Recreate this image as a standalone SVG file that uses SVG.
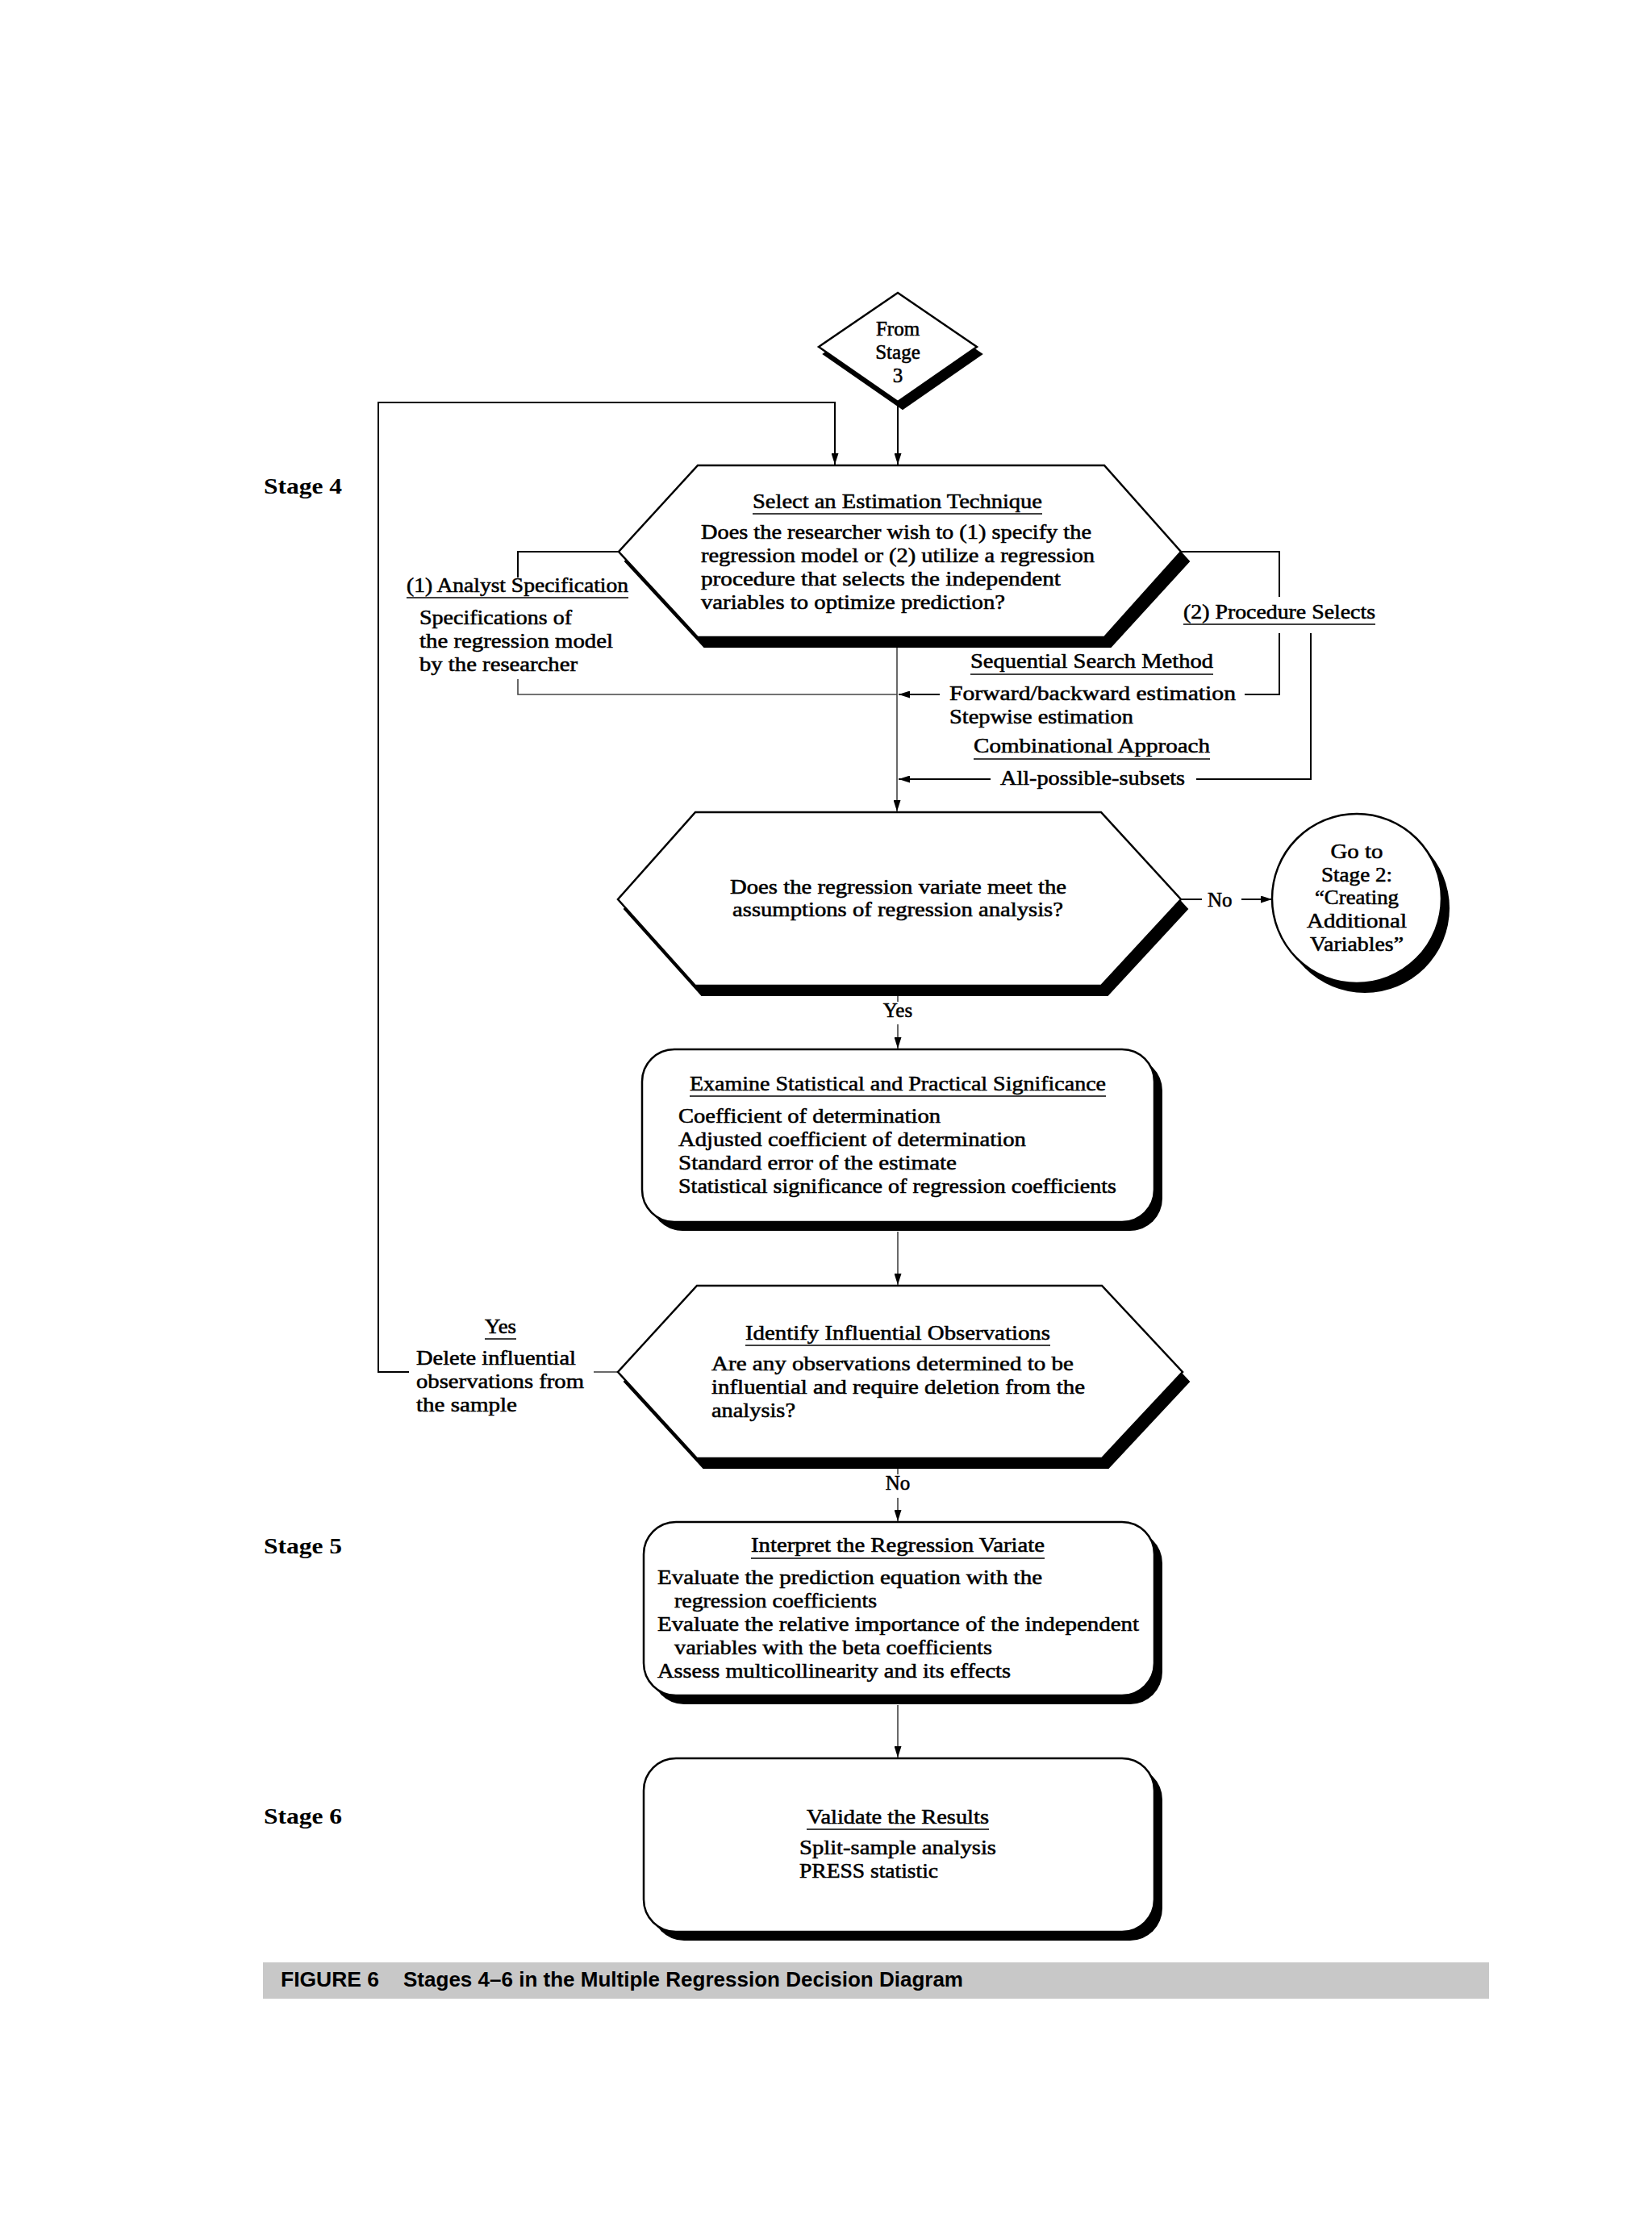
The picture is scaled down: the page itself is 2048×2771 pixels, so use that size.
<svg xmlns="http://www.w3.org/2000/svg" width="2048" height="2771" viewBox="0 0 2048 2771">
<defs>
<style>
.t{font-family:"Liberation Serif",serif;font-size:25px;fill:#000;stroke:#000;stroke-width:0.55}
.c{text-anchor:middle}
.st{font-family:"Liberation Serif",serif;font-size:28px;font-weight:bold;fill:#000}
.cap{font-family:"Liberation Sans",sans-serif;font-size:25px;font-weight:bold;fill:#000}
.shape{fill:#fff;stroke:#000;stroke-width:2.5}
.shadow{fill:#000;stroke:#000;stroke-width:2}
.ln{fill:none;stroke:#000;stroke-width:2}
.gl{fill:none;stroke:#444;stroke-width:1.6}
.ul{stroke:#000;stroke-width:1.6}
</style>
<marker id="ah" markerUnits="userSpaceOnUse" markerWidth="14" markerHeight="9" refX="14" refY="4.5" orient="auto">
<path d="M0,0 L14,4.5 L0,9 z" fill="#000"/>
</marker>
</defs>
<rect width="2048" height="2771" fill="#fff"/>

<!-- stage labels -->
<text class="st" x="327" y="612" textLength="97" lengthAdjust="spacingAndGlyphs">Stage 4</text>
<text class="st" x="327" y="1926" textLength="97" lengthAdjust="spacingAndGlyphs">Stage 5</text>
<text class="st" x="327" y="2261" textLength="97" lengthAdjust="spacingAndGlyphs">Stage 6</text>

<g id="connectors">
<line class="ln" x1="1113" y1="498" x2="1113" y2="576" marker-end="url(#ah)"/>
<polyline class="ln" points="507,1701 469,1701 469,499 1035,499 1035,576" marker-end="url(#ah)"/>
<line class="gl" x1="768" y1="1701" x2="736" y2="1701"/>
<polyline class="ln" points="766,684 642,684 642,716"/>
<polyline class="gl" points="642,842 642,861 1112,861"/>
<polyline class="ln" points="1462,684 1586,684 1586,740"/>
<polyline class="ln" points="1586,785 1586,861 1543,861"/>
<line class="ln" x1="1165" y1="861" x2="1114" y2="861" marker-end="url(#ah)"/>
<polyline class="ln" points="1625,785 1625,966 1483,966"/>
<line class="ln" x1="1228" y1="966" x2="1114" y2="966" marker-end="url(#ah)"/>
<line class="gl" x1="1112" y1="803" x2="1112" y2="1006" marker-end="url(#ah)"/>
<line class="gl" x1="1113" y1="1233" x2="1113" y2="1242"/>
<line class="gl" x1="1113" y1="1270" x2="1113" y2="1300" marker-end="url(#ah)"/>
<line class="gl" x1="1113" y1="1527" x2="1113" y2="1593" marker-end="url(#ah)"/>
<line class="gl" x1="1113" y1="1820" x2="1113" y2="1828"/>
<line class="gl" x1="1113" y1="1857" x2="1113" y2="1886" marker-end="url(#ah)"/>
<line class="gl" x1="1113" y1="2114" x2="1113" y2="2179" marker-end="url(#ah)"/>
<line class="ln" x1="1464" y1="1115" x2="1490" y2="1115"/>
<line class="ln" x1="1539" y1="1115" x2="1577" y2="1115" marker-end="url(#ah)"/>
</g>

<g id="from-stage-3">
<polygon class="shadow" points="1119,372 1217,439 1119,507 1021,439"/>
<polygon class="shape" points="1113,363 1211,430 1113,498 1015,430"/>
<text class="t c" x="1113" y="416">From</text>
<text class="t c" x="1113" y="445">Stage</text>
<text class="t c" x="1113" y="474">3</text>
</g>

<g id="select-estimation">
<polygon class="shadow" points="873,589 1377,589 1474,696 1377,802 873,802 775,696"/>
<polygon class="shape" points="865,577 1369,577 1464,684 1369,790 865,790 767,684"/>
<text class="t" x="933" y="630" textLength="359" lengthAdjust="spacingAndGlyphs">Select an Estimation Technique</text>
<line class="ul" x1="933" y1="637" x2="1292" y2="637"/>
<text class="t" x="869" y="668" textLength="484" lengthAdjust="spacingAndGlyphs">Does the researcher wish to (1) specify the</text>
<text class="t" x="869" y="697" textLength="488" lengthAdjust="spacingAndGlyphs">regression model or (2) utilize a regression</text>
<text class="t" x="869" y="726" textLength="446" lengthAdjust="spacingAndGlyphs">procedure that selects the independent</text>
<text class="t" x="869" y="755" textLength="377" lengthAdjust="spacingAndGlyphs">variables to optimize prediction?</text>
</g>

<g id="analyst-spec">
<text class="t" x="504" y="734" textLength="275" lengthAdjust="spacingAndGlyphs">(1) Analyst Specification</text>
<line class="ul" x1="504" y1="741" x2="779" y2="741"/>
<text class="t" x="520" y="774" textLength="189" lengthAdjust="spacingAndGlyphs">Specifications of</text>
<text class="t" x="520" y="803" textLength="240" lengthAdjust="spacingAndGlyphs">the regression model</text>
<text class="t" x="520" y="832" textLength="196" lengthAdjust="spacingAndGlyphs">by the researcher</text>
</g>

<g id="procedure-selects">
<text class="t" x="1467" y="767" textLength="238" lengthAdjust="spacingAndGlyphs">(2) Procedure Selects</text>
<line class="ul" x1="1467" y1="774" x2="1705" y2="774"/>
<text class="t" x="1203" y="828" textLength="301" lengthAdjust="spacingAndGlyphs">Sequential Search Method</text>
<line class="ul" x1="1203" y1="836" x2="1504" y2="836"/>
<text class="t" x="1177" y="868" textLength="355" lengthAdjust="spacingAndGlyphs">Forward/backward estimation</text>
<text class="t" x="1177" y="897" textLength="228" lengthAdjust="spacingAndGlyphs">Stepwise estimation</text>
<text class="t" x="1207" y="933" textLength="293" lengthAdjust="spacingAndGlyphs">Combinational Approach</text>
<line class="ul" x1="1207" y1="941" x2="1500" y2="941"/>
<text class="t" x="1240" y="973" textLength="229" lengthAdjust="spacingAndGlyphs">All-possible-subsets</text>
</g>

<g id="assumptions">
<polygon class="shadow" points="870,1019 1373,1019 1472,1127 1373,1234 870,1234 774,1127"/>
<polygon class="shape" points="862,1007 1365,1007 1464,1115 1365,1222 862,1222 766,1115"/>
<text class="t" x="905" y="1108" textLength="417" lengthAdjust="spacingAndGlyphs">Does the regression variate meet the</text>
<text class="t" x="908" y="1136" textLength="410" lengthAdjust="spacingAndGlyphs">assumptions of regression analysis?</text>
<text class="t" x="1497" y="1124">No</text>
<text class="t c" x="1113" y="1261">Yes</text>
</g>

<g id="goto-stage-2">
<circle cx="1692" cy="1126" r="105" fill="#000"/>
<circle class="shape" cx="1682" cy="1114" r="105"/>
<text class="t c" x="1682" y="1064" textLength="65" lengthAdjust="spacingAndGlyphs">Go to</text>
<text class="t c" x="1682" y="1093" textLength="88" lengthAdjust="spacingAndGlyphs">Stage 2:</text>
<text class="t c" x="1682" y="1121" textLength="104" lengthAdjust="spacingAndGlyphs">“Creating</text>
<text class="t c" x="1682" y="1150" textLength="124" lengthAdjust="spacingAndGlyphs">Additional</text>
<text class="t c" x="1682" y="1179" textLength="116" lengthAdjust="spacingAndGlyphs">Variables”</text>
</g>

<g id="significance">
<rect x="806" y="1312" width="635" height="214" rx="40" fill="#000"/>
<rect class="shape" x="796" y="1301" width="635" height="214" rx="40"/>
<text class="t" x="855" y="1352" textLength="516" lengthAdjust="spacingAndGlyphs">Examine Statistical and Practical Significance</text>
<line class="ul" x1="855" y1="1359" x2="1371" y2="1359"/>
<text class="t" x="841" y="1392" textLength="325" lengthAdjust="spacingAndGlyphs">Coefficient of determination</text>
<text class="t" x="841" y="1421" textLength="431" lengthAdjust="spacingAndGlyphs">Adjusted coefficient of determination</text>
<text class="t" x="841" y="1450" textLength="345" lengthAdjust="spacingAndGlyphs">Standard error of the estimate</text>
<text class="t" x="841" y="1479" textLength="543" lengthAdjust="spacingAndGlyphs">Statistical significance of regression coefficients</text>
</g>

<g id="influential">
<polygon class="shadow" points="872,1606 1374,1606 1474,1713 1374,1820 872,1820 774,1713"/>
<polygon class="shape" points="864,1594 1366,1594 1466,1701 1366,1808 864,1808 766,1701"/>
<text class="t" x="924" y="1661" textLength="378" lengthAdjust="spacingAndGlyphs">Identify Influential Observations</text>
<line class="ul" x1="924" y1="1668" x2="1302" y2="1668"/>
<text class="t" x="882" y="1699" textLength="449" lengthAdjust="spacingAndGlyphs">Are any observations determined to be</text>
<text class="t" x="882" y="1728" textLength="463" lengthAdjust="spacingAndGlyphs">influential and require deletion from the</text>
<text class="t" x="882" y="1757" textLength="104" lengthAdjust="spacingAndGlyphs">analysis?</text>
<text class="t c" x="1113" y="1847">No</text>
</g>

<g id="delete-influential">
<text class="t" x="601" y="1653" textLength="39" lengthAdjust="spacingAndGlyphs">Yes</text>
<line class="ul" x1="601" y1="1660" x2="640" y2="1660"/>
<text class="t" x="516" y="1692" textLength="198" lengthAdjust="spacingAndGlyphs">Delete influential</text>
<text class="t" x="516" y="1721" textLength="208" lengthAdjust="spacingAndGlyphs">observations from</text>
<text class="t" x="516" y="1750" textLength="125" lengthAdjust="spacingAndGlyphs">the sample</text>
</g>

<g id="interpret">
<rect x="808" y="1898" width="633" height="215" rx="40" fill="#000"/>
<rect class="shape" x="798" y="1887" width="633" height="215" rx="40"/>
<text class="t" x="931" y="1924" textLength="364" lengthAdjust="spacingAndGlyphs">Interpret the Regression Variate</text>
<line class="ul" x1="931" y1="1932" x2="1295" y2="1932"/>
<text class="t" x="815" y="1964" textLength="477" lengthAdjust="spacingAndGlyphs">Evaluate the prediction equation with the</text>
<text class="t" x="836" y="1993" textLength="251" lengthAdjust="spacingAndGlyphs">regression coefficients</text>
<text class="t" x="815" y="2022" textLength="597" lengthAdjust="spacingAndGlyphs">Evaluate the relative importance of the independent</text>
<text class="t" x="836" y="2051" textLength="394" lengthAdjust="spacingAndGlyphs">variables with the beta coefficients</text>
<text class="t" x="815" y="2080" textLength="438" lengthAdjust="spacingAndGlyphs">Assess multicollinearity and its effects</text>
</g>

<g id="validate">
<rect x="808" y="2191" width="633" height="215" rx="40" fill="#000"/>
<rect class="shape" x="798" y="2180" width="633" height="215" rx="40"/>
<text class="t" x="1000" y="2261" textLength="226" lengthAdjust="spacingAndGlyphs">Validate the Results</text>
<line class="ul" x1="1000" y1="2268" x2="1226" y2="2268"/>
<text class="t" x="991" y="2299" textLength="244" lengthAdjust="spacingAndGlyphs">Split-sample analysis</text>
<text class="t" x="991" y="2328" textLength="172" lengthAdjust="spacingAndGlyphs">PRESS statistic</text>
</g>

<g id="caption">
<rect x="326" y="2433" width="1520" height="45" fill="#c8c8c8"/>
<text class="cap" x="348" y="2463" textLength="122" lengthAdjust="spacingAndGlyphs">FIGURE 6</text>
<text class="cap" x="500" y="2463" textLength="694" lengthAdjust="spacingAndGlyphs">Stages 4–6 in the Multiple Regression Decision Diagram</text>
</g>
</svg>
